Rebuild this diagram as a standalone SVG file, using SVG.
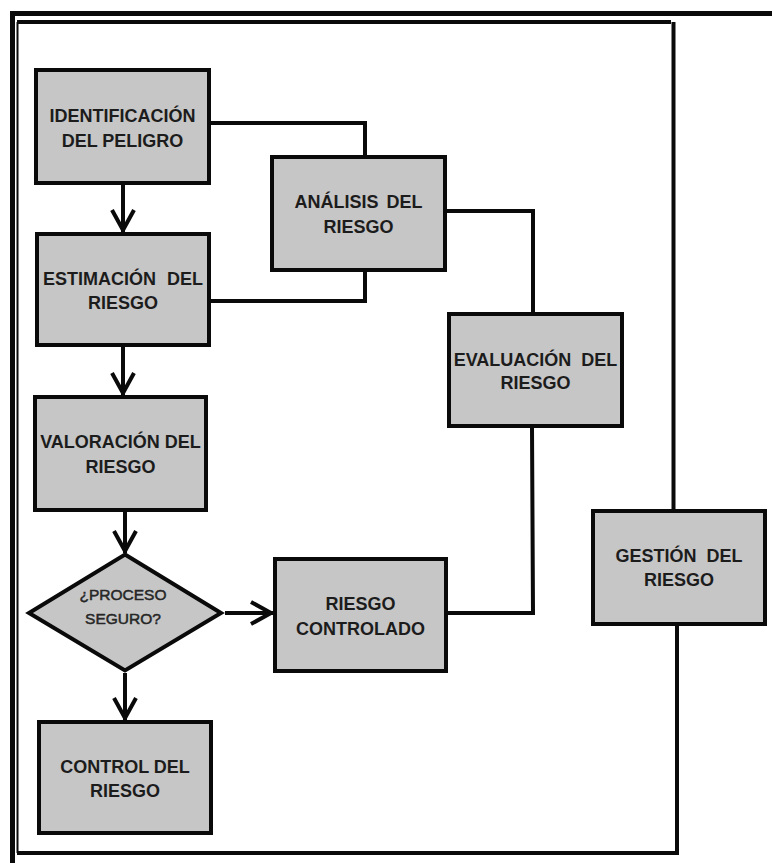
<svg xmlns="http://www.w3.org/2000/svg" width="772" height="863" viewBox="0 0 772 863">
<style>
.box{fill:#c6c6c6;stroke:#0a0a0a;stroke-width:4;stroke-linejoin:miter}
.lbl{font-family:"Liberation Sans",Arial,sans-serif;font-weight:bold;font-size:18px;fill:#1c1c1c;text-anchor:middle}
.dlbl{font-family:"Liberation Sans",Arial,sans-serif;font-size:15.5px;fill:#262626;stroke:#262626;stroke-width:0.5;text-anchor:middle}
.con{fill:none;stroke:#0a0a0a;stroke-width:4;stroke-linejoin:miter}
.frame{fill:none;stroke:#0a0a0a}
</style>
<defs>
<marker id="arr" markerUnits="userSpaceOnUse" orient="auto" refX="0" refY="0" markerWidth="30" markerHeight="30" overflow="visible">
<path d="M -22 -11 L -2 0 L -22 11" fill="none" stroke="#0a0a0a" stroke-width="4"/>
</marker>
</defs>
<rect width="772" height="863" fill="#ffffff"/>
<g id="frame">
<path class="frame" d="M 12.5 863 V 13.5 H 772" stroke-width="5"/>
<path class="frame" d="M 17.5 853 V 22" stroke-width="2"/>
<path class="frame" d="M 17 22 H 671" stroke-width="4"/>
</g>
<g id="connectors">
<path class="con" d="M 211 123 H 365 V 155"/>
<path class="con" d="M 211 301 H 365 V 272"/>
<path class="con" d="M 447 211 H 533 V 312"/>
<path class="con" d="M 532 428 L 533 613 H 448"/>
<path class="con" d="M 673.5 22 V 509"/>
<path class="con" d="M 677 626 V 853 H 17"/>
<path class="con" d="M 123 185 V 232" marker-end="url(#arr)"/>
<path class="con" d="M 123 347 V 395" marker-end="url(#arr)"/>
<path class="con" d="M 125 512 V 553" marker-end="url(#arr)"/>
<path class="con" d="M 125 673 V 720" marker-end="url(#arr)"/>
<path class="con" d="M 225 613 H 273" marker-end="url(#arr)"/>
</g>
<g id="identificacion">
<rect class="box" x="36" y="70" width="173" height="113"/>
<text class="lbl"><tspan x="122.5" y="122">IDENTIFICACIÓN</tspan><tspan x="122.5" y="147">DEL PELIGRO</tspan></text>
</g>
<g id="estimacion">
<rect class="box" x="37" y="234" width="172" height="111"/>
<text class="lbl"><tspan x="123" y="285" word-spacing="6">ESTIMACIÓN DEL</tspan><tspan x="123" y="309">RIESGO</tspan></text>
</g>
<g id="valoracion">
<rect class="box" x="35" y="397" width="171" height="113"/>
<text class="lbl"><tspan x="120.5" y="448">VALORACIÓN DEL</tspan><tspan x="120.5" y="473">RIESGO</tspan></text>
</g>
<g id="proceso-seguro">
<polygon class="box" points="125,554.5 221,613 125,670.5 29,613"/>
<text class="dlbl"><tspan x="123" y="600">¿PROCESO</tspan><tspan x="123" y="624">SEGURO?</tspan></text>
</g>
<g id="control">
<rect class="box" x="39" y="722" width="172" height="111"/>
<text class="lbl"><tspan x="125" y="773">CONTROL DEL</tspan><tspan x="125" y="797">RIESGO</tspan></text>
</g>
<g id="analisis">
<rect class="box" x="272" y="157" width="173" height="113"/>
<text class="lbl"><tspan x="358.5" y="208" word-spacing="3">ANÁLISIS DEL</tspan><tspan x="358.5" y="233">RIESGO</tspan></text>
</g>
<g id="evaluacion">
<rect class="box" x="449" y="314" width="173" height="112"/>
<text class="lbl"><tspan x="535.5" y="366" word-spacing="5">EVALUACIÓN DEL</tspan><tspan x="535.5" y="389">RIESGO</tspan></text>
</g>
<g id="riesgo-controlado">
<rect class="box" x="275" y="559" width="171" height="112"/>
<text class="lbl"><tspan x="360.5" y="610">RIESGO</tspan><tspan x="360.5" y="635">CONTROLADO</tspan></text>
</g>
<g id="gestion">
<rect class="box" x="593" y="511" width="172" height="113"/>
<text class="lbl"><tspan x="679" y="562" word-spacing="5">GESTIÓN DEL</tspan><tspan x="679" y="586">RIESGO</tspan></text>
</g>
</svg>
